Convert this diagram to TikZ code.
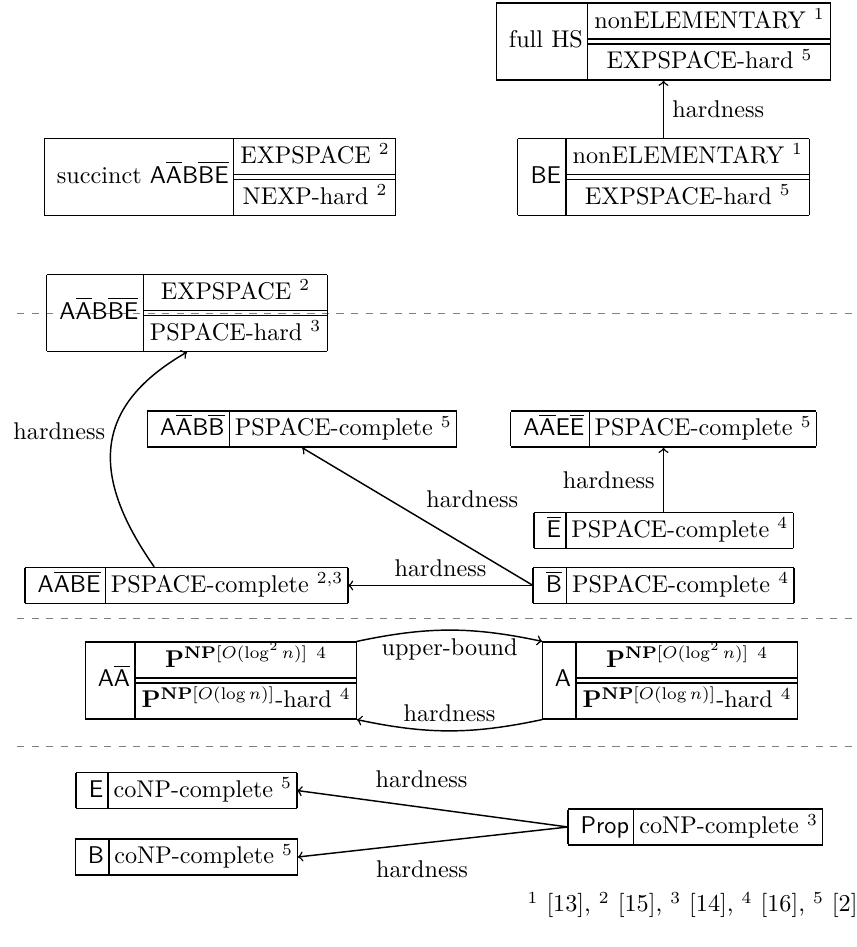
\documentclass[tikz,border=0pt]{standalone}

\renewcommand{\arraystretch}{1.2}
\setlength{\arrayrulewidth}{0.5pt}
\newcommand{\frag}[1]{$\mathsf{#1}$}
\newcommand{\onebox}[2]{%
    \begin{tabular}{|@{\hspace{5pt}}r@{\hspace{2pt}}|@{\hspace{2pt}}c@{\hspace{2pt}}|}
        \hline #1 & #2 \\ \hline
    \end{tabular}}
\newcommand{\twobox}[3]{%
    \begin{tabular}{|@{\hspace{5pt}}r@{\hspace{2pt}}|@{}c@{}|}
        \hline #1 & \begin{tabular}{@{\hspace{2.5pt}}c@{\hspace{2.5pt}}}
            #2 \\ \hline\hline #3
        \end{tabular} \\ \hline
    \end{tabular}}

\tikzset{
    fragbox/.style={inner sep=0pt, outer sep=0pt},
    sep/.style={dashed, gray},
    reduction/.style={->, semithick}
}

\begin{document}
\begin{tikzpicture}[x=0.4132pt, y=0.4132pt]
    \useasboundingbox (0,0) rectangle (857,947);

    % Separators
    \foreach \y in {634,329,201} {
        \draw[sep] (17,\y) -- (870,\y);
    }

    % Top
    \node[fragbox] (fullhs) at (663.5,905.5)
        {\twobox{full HS}{nonELEMENTARY $^1$}{EXPSPACE-hard $^5$}};
    \node[fragbox] (be) at (663.5,770)
        {\twobox{\frag{BE}}{nonELEMENTARY $^1$}{EXPSPACE-hard $^5$}};
    \node[fragbox] (succ) at (220,770)
        {\twobox{succinct \frag{A\overline{A}B\overline{B}\overline{E}}}{EXPSPACE $^2$}{NEXP-hard $^2$}};

    \draw[reduction] (be) -- node[right] {hardness} (fullhs);

    % PSPACE
    \node[fragbox] (aabbe) at (187,634)
        {\twobox{\frag{A\overline{A}B\overline{B}\overline{E}}}{EXPSPACE $^2$}{PSPACE-hard $^3$}};
    \node[fragbox] (aabb) at (302,518)
        {\onebox{\frag{A\overline{A}B\overline{B}}}{PSPACE-complete $^5$}};
    \node[fragbox] (aaee) at (663.5,518)
        {\onebox{\frag{A\overline{A}E\overline{E}}}{PSPACE-complete $^5$}};
    \node[fragbox] (ebar) at (663.5,416.5)
        {\onebox{\frag{\overline{E}}}{PSPACE-complete $^4$}};
    \node[fragbox] (aabe) at (186.5,361.5)
        {\onebox{\frag{A\overline{A}\overline{B}\overline{E}}}{PSPACE-complete $^{2,3}$}};
    \node[fragbox] (bbar) at (663.5,361.5)
        {\onebox{\frag{\overline{B}}}{PSPACE-complete $^4$}};

    \draw[reduction] (aabe.150) to[out=125, in=210, looseness=1.3]
        node[pos=0.57, left] {hardness} (aabbe.south);
    \draw[reduction] (ebar) -- node[left] {hardness} (aaee);
    \draw[reduction] (bbar.west) -- node[above right] {hardness} (aabb.south);
    \draw[reduction] (bbar.west) -- node[above] {hardness} (aabe.east);

    % P^NP
    \node[fragbox] (aa) at (221,266.5)
        {\twobox{\frag{A\overline{A}}}{$\mathbf{P}^{\mathbf{NP}[O(\log^2 n)]}$ $^4$}{$\mathbf{P}^{\mathbf{NP}[O(\log n)]}$-hard $^4$}};
    \node[fragbox] (a) at (670,266.5)
        {\twobox{\frag{A}}{$\mathbf{P}^{\mathbf{NP}[O(\log^2 n)]}$ $^4$}{$\mathbf{P}^{\mathbf{NP}[O(\log n)]}$-hard $^4$}};

    \draw[reduction] (aa.north east) to[bend left=12] node[below] {upper-bound} (a.north west);
    \draw[reduction] (a.south west) to[bend left=12] node[above] {hardness} (aa.south east);

    % coNP
    \node[fragbox] (e) at (186.5,156.5)
        {\onebox{\frag{E}}{coNP-complete $^5$}};
    \node[fragbox] (b) at (186.5,90)
        {\onebox{\frag{B}}{coNP-complete $^5$}};
    \node[fragbox, anchor=west] (prop) at (568,120)
        {\onebox{\frag{Prop}}{coNP-complete $^3$}};

    \draw[reduction] (prop.west) -- node[pos=0.54, above=4.5pt] {hardness} (e.east);
    \draw[reduction] (prop.west) -- node[pos=0.54, below=3.5pt] {hardness} (b.east);

    % References
    \node[anchor=east, inner sep=0pt] (refs) at (858,42)
        {$^1$ [13], $^2$ [15], $^3$ [14], $^4$ [16], $^5$ [2]};
\end{tikzpicture}
\end{document}
